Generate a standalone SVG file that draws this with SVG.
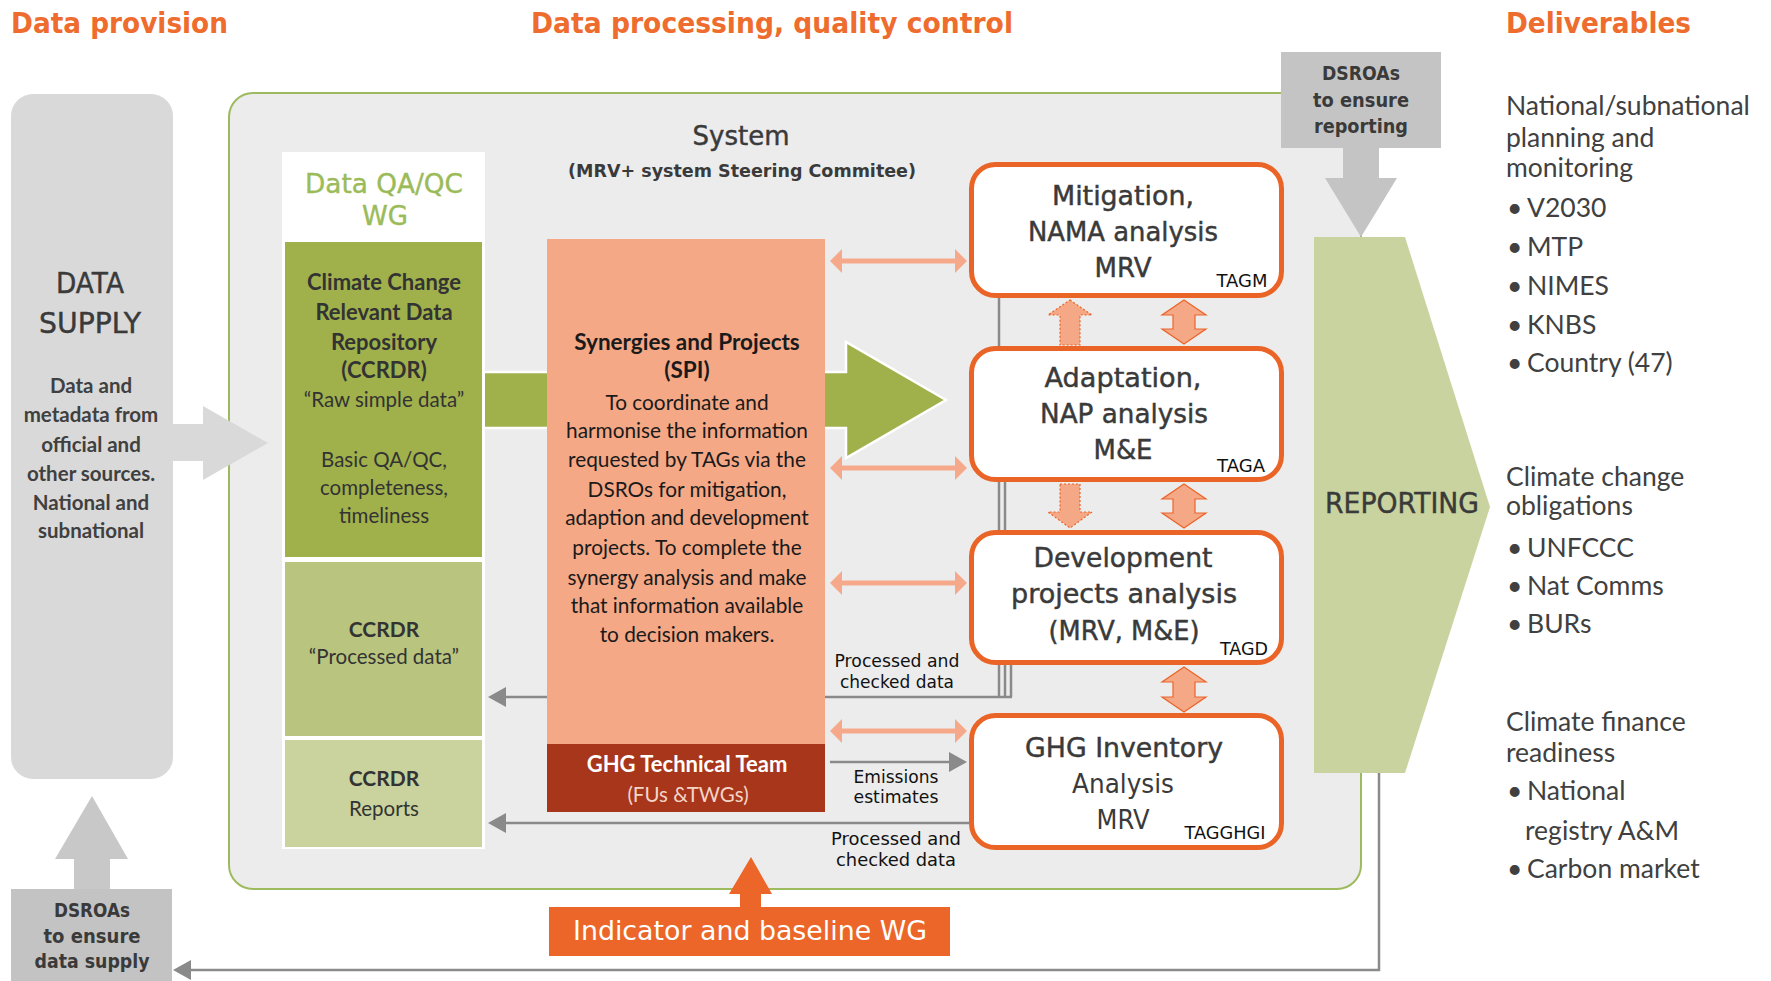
<svg xmlns="http://www.w3.org/2000/svg" width="1771" height="981" viewBox="0 0 1771 981">
<defs>
<style>
.hdr{font-family:"DejaVu Sans",sans-serif;font-weight:bold;font-size:29px;fill:#ee6c2d}
.ts{font-family:"DejaVu Sans",sans-serif;fill:#3a3a3a;text-anchor:middle}
.md{stroke:#3a3a3a;stroke-width:0.45px}
.cb{font-family:Lato,"Liberation Sans",sans-serif;font-weight:bold;text-anchor:middle}
.cr{font-family:Lato,"Liberation Sans",sans-serif;text-anchor:middle}
.del{font-family:Lato,"Liberation Sans",sans-serif;font-size:26.5px;fill:#404040}
.box{fill:#fff;stroke:#eb6427;stroke-width:5}
.gl{fill:none;stroke:#8a8a8a;stroke-width:2.5}
.sal{fill:none;stroke:#f5a98a;stroke-width:5}
.va{fill:#f4a886;stroke:#eb6427;stroke-width:1.2}
.vd{fill:#f4a886;stroke:#eb6427;stroke-width:1.2;stroke-dasharray:2 2}
.tag{fill:#111}
.qa{fill:#9bbb59;stroke:#9bbb59;stroke-width:0.4px}
.wt{fill:#fff}
</style>
<marker id="ga" viewBox="0 0 18 20" markerWidth="18" markerHeight="20" refX="8" refY="10" markerUnits="userSpaceOnUse" orient="auto"><path d="M0,0 L18,10 L0,20 z" fill="#8a8a8a"/></marker>
<marker id="sa" viewBox="0 0 12 24" markerWidth="12" markerHeight="24" refX="2" refY="12" markerUnits="userSpaceOnUse" orient="auto-start-reverse"><path d="M0,0 L12,12 L0,24 z" fill="#f5a98a"/></marker>
</defs>
<rect width="1771" height="981" fill="#fff"/>

<g id="headers">
<text class="hdr" x="11" y="33" textLength="217" lengthAdjust="spacingAndGlyphs">Data provision</text>
<text class="hdr" x="531" y="33" textLength="482" lengthAdjust="spacingAndGlyphs">Data processing, quality control</text>
<text class="hdr" x="1506" y="33" textLength="185" lengthAdjust="spacingAndGlyphs">Deliverables</text>
</g>

<g id="system">
<rect x="229" y="93" width="1132" height="796" rx="24" fill="#ececec" stroke="#9dba5e" stroke-width="2"/>
<text class="ts md" x="741" y="145" font-size="27" textLength="97" lengthAdjust="spacingAndGlyphs">System</text>
<text class="ts" x="742" y="177" font-size="18" font-weight="bold" textLength="348" lengthAdjust="spacingAndGlyphs">(MRV+ system Steering Commitee)</text>
</g>

<g id="data-supply">
<rect x="11" y="94" width="162" height="685" rx="22" fill="#d9d9d9"/>
<text class="ts md" x="90" y="293" font-size="29" textLength="68" lengthAdjust="spacingAndGlyphs">DATA</text>
<text class="ts md" x="90" y="333" font-size="29" textLength="102" lengthAdjust="spacingAndGlyphs">SUPPLY</text>
<g class="cb" font-size="20.5" fill="#404040">
<text x="91" y="393">Data and</text>
<text x="91" y="422">metadata from</text>
<text x="91" y="452">official and</text>
<text x="91" y="481">other sources.</text>
<text x="91" y="510">National and</text>
<text x="91" y="538">subnational</text>
</g>
</g>

<g id="dsroas-supply">
<rect x="11" y="889" width="161" height="100" fill="#c3c3c3"/>
<text class="ts" x="92" y="917" font-size="19" font-weight="bold" textLength="76" lengthAdjust="spacingAndGlyphs">DSROAs</text>
<text class="ts" x="92" y="943" font-size="19" font-weight="bold" textLength="97" lengthAdjust="spacingAndGlyphs">to ensure</text>
<text class="ts" x="92" y="968" font-size="19" font-weight="bold" textLength="115" lengthAdjust="spacingAndGlyphs">data supply</text>
</g>

<g id="dsroas-reporting">
<rect x="1281" y="52" width="160" height="96" fill="#c4c4c4"/>
<text class="ts" x="1361" y="80" font-size="19" font-weight="bold" textLength="78" lengthAdjust="spacingAndGlyphs">DSROAs</text>
<text class="ts" x="1361" y="107" font-size="19" font-weight="bold" textLength="96" lengthAdjust="spacingAndGlyphs">to ensure</text>
<text class="ts" x="1361" y="133" font-size="19" font-weight="bold" textLength="94" lengthAdjust="spacingAndGlyphs">reporting</text>
</g>

<g id="connectors">
<polygon points="173,424 203,424 203,406 268,443 203,480 203,461 173,461" fill="#d9d9d9"/>
<polygon points="92,796 128,859 110,859 110,889 74,889 74,859 55,859" fill="#c8c8c8"/>
<polygon points="1343,148 1379,148 1379,178 1397,178 1361,237 1325,178 1343,178" fill="#c4c4c4"/>
<polygon points="480,372 846,372 846,342 946,400 846,458 846,428 480,428" fill="#a0b14c" stroke="#fff" stroke-width="2.5"/>
<path class="gl" d="M999,296 V697"/>
<path class="gl" d="M1005,480 V697"/>
<path class="gl" d="M1011,663 V697"/>
<path class="gl" d="M1012,697 H498" marker-end="url(#ga)"/>
<path class="gl" d="M969,823 H498" marker-end="url(#ga)"/>
<path class="gl" d="M830,762 H957" marker-end="url(#ga)"/>
<path class="gl" stroke-width="3.5" d="M1379,773 V970 H183" marker-end="url(#ga)"/>
<path class="sal" d="M840,261 H957" marker-start="url(#sa)" marker-end="url(#sa)"/>
<path class="sal" d="M840,468 H957" marker-start="url(#sa)" marker-end="url(#sa)"/>
<path class="sal" d="M840,583 H957" marker-start="url(#sa)" marker-end="url(#sa)"/>
<path class="sal" d="M840,731 H957" marker-start="url(#sa)" marker-end="url(#sa)"/>
<polygon class="vd" points="1070,300 1092,315 1080,315 1080,345 1060,345 1060,315 1048,315"/>
<polygon class="va" points="1184,300 1206,315 1195,315 1195,329 1206,329 1184,344 1162,329 1173,329 1173,315 1162,315"/>
<polygon class="vd" points="1060,484 1080,484 1080,512 1092,512 1070,528 1048,512 1060,512"/>
<polygon class="va" points="1184,484 1206,499 1195,499 1195,513 1206,513 1184,528 1162,513 1173,513 1173,499 1162,499"/>
<polygon class="va" points="1184,667 1206,682 1195,682 1195,697 1206,697 1184,712 1162,697 1173,697 1173,682 1162,682"/>
<polygon points="751,857 772,894 761,894 761,907 740,907 740,894 729,894" fill="#eb6628"/>
<g class="ts tag" font-size="18">
<text x="897" y="667" textLength="125" lengthAdjust="spacingAndGlyphs">Processed and</text>
<text x="897" y="688" textLength="114" lengthAdjust="spacingAndGlyphs">checked data</text>
<text x="896" y="783" textLength="85" lengthAdjust="spacingAndGlyphs">Emissions</text>
<text x="896" y="803" textLength="85" lengthAdjust="spacingAndGlyphs">estimates</text>
<text x="896" y="845" textLength="130" lengthAdjust="spacingAndGlyphs">Processed and</text>
<text x="896" y="866" textLength="120" lengthAdjust="spacingAndGlyphs">checked data</text>
</g>
</g>

<g id="ccrdr">
<rect x="282" y="152" width="203" height="697" fill="#fff"/>
<text class="ts qa" x="384" y="193" font-size="27" textLength="158" lengthAdjust="spacingAndGlyphs">Data QA/QC</text>
<text class="ts qa" x="385" y="225" font-size="27" textLength="46" lengthAdjust="spacingAndGlyphs">WG</text>
<rect x="285" y="242" width="197" height="315" fill="#a0b14c"/>
<g class="cb" font-size="22" fill="#333">
<text x="384" y="290">Climate Change</text>
<text x="384" y="320">Relevant Data</text>
<text x="384" y="350">Repository</text>
<text x="384" y="378">(CCRDR)</text>
</g>
<g class="cr" font-size="20.5" fill="#333">
<text x="384" y="407">“Raw simple data”</text>
<text x="384" y="467">Basic QA/QC,</text>
<text x="384" y="495">completeness,</text>
<text x="384" y="523">timeliness</text>
</g>
<rect x="285" y="562" width="197" height="174" fill="#b9c47e"/>
<text class="cb" x="384" y="637" font-size="21" fill="#333">CCRDR</text>
<text class="cr" x="384" y="664" font-size="20.5" fill="#333">“Processed data”</text>
<rect x="285" y="740" width="197" height="107" fill="#cad39e"/>
<text class="cb" x="384" y="786" font-size="21" fill="#333">CCRDR</text>
<text class="cr" x="384" y="816" font-size="20.5" fill="#333">Reports</text>
</g>

<g id="spi">
<rect x="547" y="239" width="278" height="505" fill="#f4a886"/>
<text class="cb" x="687" y="350" font-size="22.5" fill="#1a1a1a">Synergies and Projects</text>
<text class="cb" x="687" y="378" font-size="22.5" fill="#1a1a1a">(SPI)</text>
<g class="cr" font-size="20.8" fill="#1a1a1a">
<text x="687" y="410">To coordinate and</text>
<text x="687" y="438">harmonise the information</text>
<text x="687" y="467">requested by TAGs via the</text>
<text x="687" y="497">DSROs for mitigation,</text>
<text x="687" y="525">adaption and development</text>
<text x="687" y="555">projects. To complete the</text>
<text x="687" y="585">synergy analysis and make</text>
<text x="687" y="613">that information available</text>
<text x="687" y="642">to decision makers.</text>
</g>
</g>

<g id="ghg-team">
<rect x="547" y="744" width="278" height="68" fill="#a8361b"/>
<text class="cb" x="687" y="772" font-size="22" fill="#fff">GHG Technical Team</text>
<text class="cr" x="688" y="802" font-size="20.5" fill="#f3d5c8">(FUs &amp;TWGs)</text>
</g>

<g id="mitigation">
<rect class="box" x="971.5" y="164.5" width="310" height="131" rx="24"/>
<text class="ts md" x="1123" y="205" font-size="26" textLength="142" lengthAdjust="spacingAndGlyphs">Mitigation,</text>
<text class="ts md" x="1123" y="241" font-size="26" textLength="190" lengthAdjust="spacingAndGlyphs">NAMA analysis</text>
<text class="ts md" x="1123" y="277" font-size="26" textLength="57" lengthAdjust="spacingAndGlyphs">MRV</text>
<text class="ts tag" x="1242" y="287" font-size="18" textLength="51" lengthAdjust="spacingAndGlyphs">TAGM</text>
</g>

<g id="adaptation">
<rect class="box" x="971.5" y="348.5" width="310" height="131" rx="24"/>
<text class="ts md" x="1123" y="387" font-size="26" textLength="157" lengthAdjust="spacingAndGlyphs">Adaptation,</text>
<text class="ts md" x="1124" y="423" font-size="26" textLength="168" lengthAdjust="spacingAndGlyphs">NAP analysis</text>
<text class="ts md" x="1123" y="459" font-size="26" textLength="59" lengthAdjust="spacingAndGlyphs">M&amp;E</text>
<text class="ts tag" x="1241" y="472" font-size="18" textLength="48" lengthAdjust="spacingAndGlyphs">TAGA</text>
</g>

<g id="development">
<rect class="box" x="971.5" y="532.5" width="310" height="130" rx="24"/>
<text class="ts md" x="1123" y="567" font-size="26" textLength="179" lengthAdjust="spacingAndGlyphs">Development</text>
<text class="ts md" x="1124" y="603" font-size="26" textLength="226" lengthAdjust="spacingAndGlyphs">projects analysis</text>
<text class="ts md" x="1124" y="640" font-size="26" textLength="151" lengthAdjust="spacingAndGlyphs">(MRV, M&amp;E)</text>
<text class="ts tag" x="1244" y="655" font-size="18" textLength="48" lengthAdjust="spacingAndGlyphs">TAGD</text>
</g>

<g id="ghg-inventory">
<rect class="box" x="971.5" y="715.5" width="310" height="132" rx="24"/>
<text class="ts md" x="1124" y="757" font-size="26" textLength="198" lengthAdjust="spacingAndGlyphs">GHG Inventory</text>
<text class="ts" x="1123" y="793" font-size="26" textLength="102" lengthAdjust="spacingAndGlyphs">Analysis</text>
<text class="ts" x="1123" y="829" font-size="26" textLength="53" lengthAdjust="spacingAndGlyphs">MRV</text>
<text class="ts tag" x="1225" y="839" font-size="18" textLength="81" lengthAdjust="spacingAndGlyphs">TAGGHGI</text>
</g>

<g id="reporting">
<polygon points="1314,237 1405,237 1490,507 1405,773 1314,773" fill="#c9d39f"/>
<text class="ts md" x="1402" y="513" font-size="28" textLength="154" lengthAdjust="spacingAndGlyphs">REPORTING</text>
</g>

<g id="indicator">
<rect x="549" y="907" width="401" height="49" fill="#eb6628"/>
<text class="ts wt" x="750" y="940" font-size="27" textLength="354" lengthAdjust="spacingAndGlyphs">Indicator and baseline WG</text>
</g>

<g id="deliverables" class="del">
<text x="1506" y="115">National/subnational</text>
<text x="1506" y="147">planning and</text>
<text x="1506" y="177">monitoring</text>
<text y="217"><tspan x="1507">•</tspan><tspan x="1527">V2030</tspan></text>
<text y="256"><tspan x="1507">•</tspan><tspan x="1527">MTP</tspan></text>
<text y="295"><tspan x="1507">•</tspan><tspan x="1527">NIMES</tspan></text>
<text y="334"><tspan x="1507">•</tspan><tspan x="1527">KNBS</tspan></text>
<text y="372"><tspan x="1507">•</tspan><tspan x="1527">Country (47)</tspan></text>
<text x="1506" y="486">Climate change</text>
<text x="1506" y="515">obligations</text>
<text y="557"><tspan x="1507">•</tspan><tspan x="1527">UNFCCC</tspan></text>
<text y="595"><tspan x="1507">•</tspan><tspan x="1527">Nat Comms</tspan></text>
<text y="633"><tspan x="1507">•</tspan><tspan x="1527">BURs</tspan></text>
<text x="1506" y="731">Climate finance</text>
<text x="1506" y="762">readiness</text>
<text y="800"><tspan x="1507">•</tspan><tspan x="1527">National</tspan></text>
<text x="1525" y="840">registry A&amp;M</text>
<text y="878"><tspan x="1507">•</tspan><tspan x="1527">Carbon market</tspan></text>
</g>
</svg>
